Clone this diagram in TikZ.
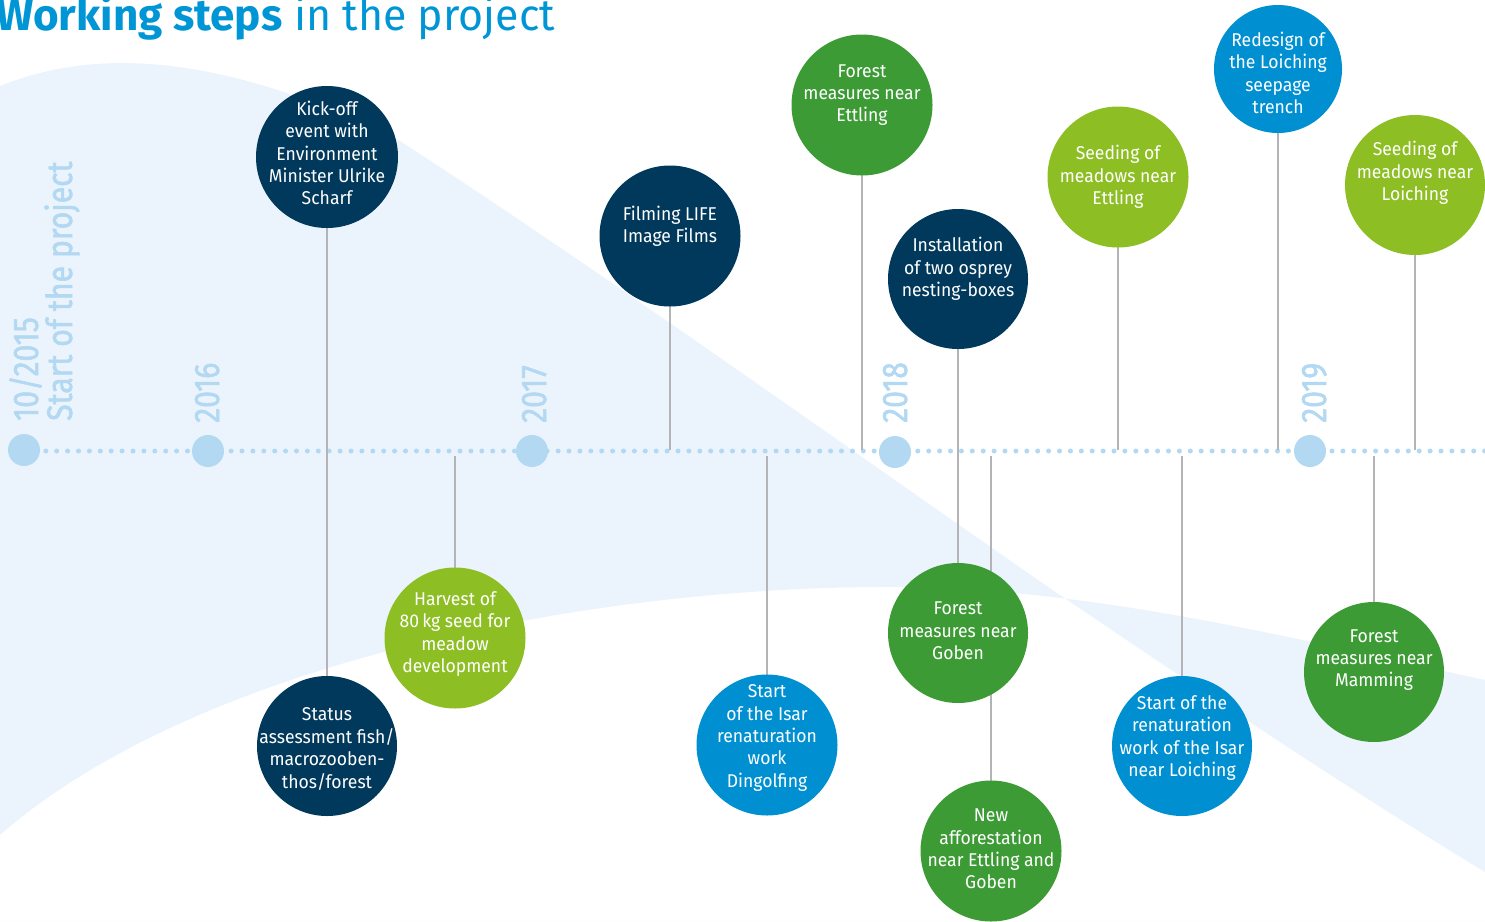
\documentclass[tikz,border=0pt]{standalone}
\usepackage{fontspec}
\newfontfamily\cf{Fira Sans}[FakeStretch=0.95]
\newfontfamily\tf{Fira Sans}
\newfontfamily\yf{Fira Sans}[FakeStretch=0.85, FakeBold=1.5]
\definecolor{navy}{RGB}{0,57,91}
\definecolor{fgreen}{RGB}{61,155,53}
\definecolor{lgreen}{RGB}{141,190,35}
\definecolor{mblue}{RGB}{0,144,210}
\definecolor{bgblue}{RGB}{235,244,252}
\definecolor{tlblue}{RGB}{178,216,242}
\definecolor{linegray}{RGB}{180,180,184}
\definecolor{titleblue}{RGB}{0,150,214}
\begin{document}
\begin{tikzpicture}[x=1pt,y=-1pt,
  circ/.style={circle, minimum size=140pt, inner sep=0pt},
  txt/.style={text=white, align=center, inner sep=0pt, font=\cf\fontsize{18.5}{22.4}\selectfont},
  conn/.style={draw=linegray, line width=2.6pt},
  yrdot/.style={circle, fill=tlblue, minimum size=32pt, inner sep=0pt},
  yl/.style={rotate=90, anchor=base west, inner sep=0pt, text=tlblue, font=\yf\fontsize{35.5}{35.5}\selectfont},
  dots/.style={draw=tlblue, line width=5pt, line cap=round, dash pattern=on 0pt off 10.9pt}]
\useasboundingbox (0,0) rectangle (1485,921);
\clip (0,0) rectangle (1485,921);
% background bands
\fill[bgblue, even odd rule]
  (0,86) .. controls (40,70) and (80,63) .. (125,63)
  .. controls (220,64) and (320,100) .. (400,141)
  .. controls (600,270) and (900,485) .. (1057,593)
  .. controls (1200,690) and (1350,790) .. (1485,872)
  -- (1485,921) -- (0,921) -- cycle
  (0,835) .. controls (200,660) and (600,585) .. (900,587)
  .. controls (1100,589) and (1300,640) .. (1485,680)
  -- (1485,921) -- (0,921) -- cycle;
% title
\node[anchor=base west, inner sep=0pt, text=titleblue, font=\tf\fontsize{44}{44}\selectfont] (title) at (-4,30)
  {{\bfseries Working steps} {\addfontfeatures{FakeStretch=0.975}in the project}};
% timeline
\coordinate (tlS) at (24,451);
\coordinate (tlE) at (1495,451);
\draw[dots] (tlS) -- (tlE);
\node[yrdot] (y15) at (24,450) {};
\node[yrdot] (y16) at (208,451) {};
\node[yrdot] (y17) at (532,451) {};
\node[yrdot] (y18) at (895,452) {};
\node[yrdot] (y19) at (1310,451) {};
\node[yl] (l15) at (38,421) {10/2015};
\node[yl] (l15b) at (72,421) {Start of the project};
\node[yl] (l16) at (219,423) {2016};
\node[yl] (l17) at (546,423) {2017};
\node[yl] (l18) at (907,423) {2018};
\node[yl] (l19) at (1326,423) {2019};
% timeline anchor points
\coordinate (tHarv) at (455,456);
\coordinate (tFilm) at (670,450);
\coordinate (tIsar) at (767,456);
\coordinate (tFett) at (862,450);
\coordinate (tNewa) at (991,456);
\coordinate (tSeet) at (1118,450);
\coordinate (tLoi) at (1182,456);
\coordinate (tRede) at (1278,450);
\coordinate (tMam) at (1374,456);
\coordinate (tSeel) at (1415,450);
% circle positions (nodes)
\path
  (327,157) node[circ] (kick) {}
  (327,746) node[circ] (stat) {}
  (455,638) node[circ] (harv) {}
  (670,236) node[circ] (film) {}
  (767,745) node[circ] (isar) {}
  (862,105) node[circ] (fett) {}
  (958,279) node[circ] (inst) {}
  (958,633) node[circ] (gob) {}
  (991,851) node[circ] (newa) {}
  (1118,177) node[circ] (seet) {}
  (1278,69) node[circ, minimum size=128pt] (rede) {}
  (1415,185) node[circ] (seel) {}
  (1182,746) node[circ] (loi) {}
  (1374,672) node[circ] (mam) {};
% connectors
\draw[conn] (kick) -- (stat);
\draw[conn] (tHarv) -- (harv);
\draw[conn] (film) -- (tFilm);
\draw[conn] (tIsar) -- (isar);
\draw[conn] (fett) -- (tFett);
\draw[conn] (inst) -- (gob);
\draw[conn] (tNewa) -- (newa);
\draw[conn] (seet) -- (tSeet);
\draw[conn] (tLoi) -- (loi);
\draw[conn] (rede) -- (tRede);
\draw[conn] (tMam) -- (mam);
\draw[conn] (seel) -- (tSeel);
% filled circles
\fill[navy] (kick) circle (71pt);
\fill[navy] (stat) circle (70pt);
\fill[lgreen] (harv) circle (70.5pt);
\fill[navy] (film) circle (70.5pt);
\fill[mblue] (isar) circle (70.5pt);
\fill[fgreen] (fett) circle (70.5pt);
\fill[navy] (inst) circle (70pt);
\fill[fgreen] (gob) circle (70pt);
\fill[fgreen] (newa) circle (70.5pt);
\fill[lgreen] (seet) circle (70.5pt);
\fill[mblue] (rede) circle (64pt);
\fill[lgreen] (seel) circle (70pt);
\fill[mblue] (loi) circle (70pt);
\fill[fgreen] (mam) circle (70pt);
% texts
\node[txt] (kickT) at (327,153) {Kick-off\\event with\\Environment\\Minister Ulrike\\Scharf};
\node[txt] (statT) at (327,749) {Status\\assessment fish/\\macrozooben-\\thos/forest};
\node[txt] (harvT) at (455,634) {Harvest of\\80\,kg seed for\\meadow\\development};
\node[txt] (filmT) at (670,226) {Filming LIFE\\Image Films};
\node[txt] (isarT) at (767,738) {Start\\of the Isar\\renaturation\\work\\Dingolfing};
\node[txt] (fettT) at (862,95) {Forest\\measures near\\Ettling};
\node[txt] (instT) at (958,269) {Installation\\of two osprey\\nesting-boxes};
\node[txt] (gobT) at (958,631) {Forest\\measures near\\Goben};
\node[txt] (newaT) at (991,849) {New\\afforestation\\near Ettling and\\Goben};
\node[txt] (seetT) at (1118,177) {Seeding of\\meadows near\\Ettling};
\node[txt] (redeT) at (1278,73) {Redesign of\\the Loiching\\seepage\\trench};
\node[txt] (seelT) at (1415,173) {Seeding of\\meadows near\\Loiching};
\node[txt] (loiT) at (1182,738) {Start of the\\renaturation\\work of the Isar\\near Loiching};
\node[txt] (mamT) at (1374,660) {Forest\\measures near\\Mamming};
\end{tikzpicture}
\end{document}
